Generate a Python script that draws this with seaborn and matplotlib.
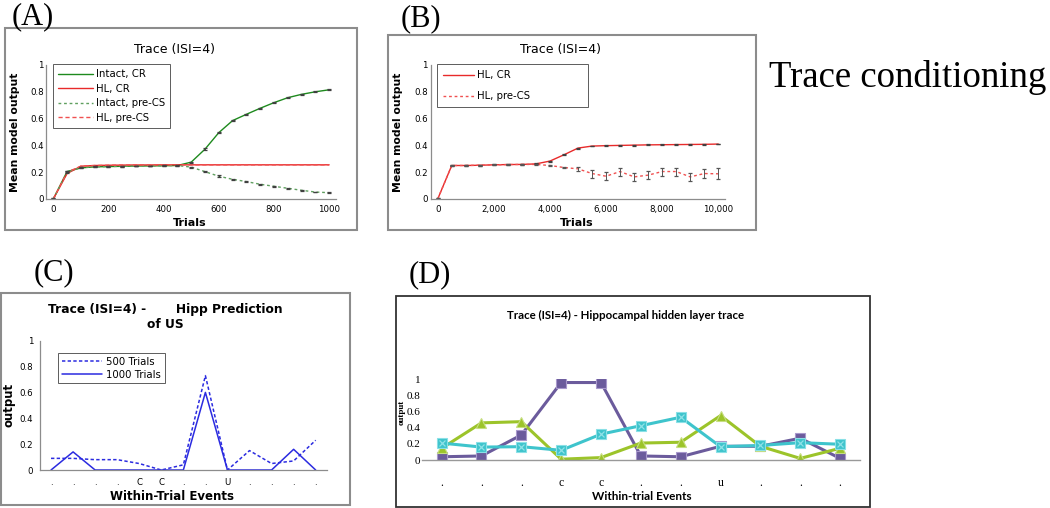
import numpy as np
import pandas as pd
import seaborn as sns
import matplotlib.pyplot as plt
from matplotlib.patches import Rectangle
from matplotlib.ticker import MultipleLocator

# ---- data ----
# (A) Trace ISI=4, 0..1000 trials in blocks of 50
a_trials = [0, 50, 100, 150, 200, 250, 300, 350, 400, 450, 500,
            550, 600, 650, 700, 750, 800, 850, 900, 950, 1000]
a_intact_cr = [0.0, 0.205, 0.232, 0.24, 0.242, 0.244, 0.246, 0.247, 0.248, 0.25, 0.275,
               0.372, 0.495, 0.585, 0.632, 0.677, 0.719, 0.756, 0.781, 0.80, 0.815]
a_hl_cr = [0.0, 0.19, 0.245, 0.25, 0.252, 0.253, 0.254, 0.254, 0.255, 0.255, 0.255,
           0.255, 0.255, 0.255, 0.255, 0.255, 0.255, 0.255, 0.255, 0.255, 0.255]
a_intact_pre = [0.0, 0.2, 0.235, 0.24, 0.242, 0.244, 0.246, 0.247, 0.248, 0.25, 0.238,
                0.204, 0.17, 0.147, 0.13, 0.11, 0.095, 0.08, 0.065, 0.052, 0.047]
a_hl_pre = [0.0, 0.2, 0.245, 0.25, 0.252, 0.253, 0.254, 0.254, 0.255, 0.255, 0.255,
            0.255, 0.255, 0.255, 0.255, 0.255, 0.255, 0.255, 0.255, 0.255, 0.255]
a_err = [0.006, 0.006, 0.004, 0.003, 0.003, 0.003, 0.003, 0.003, 0.003, 0.003, 0.004,
         0.006, 0.006, 0.005, 0.004, 0.004, 0.004, 0.003, 0.003, 0.003, 0.003]

# (B) Trace ISI=4, HL only, 0..10000 trials in blocks of 500
b_trials = [0, 500, 1000, 1500, 2000, 2500, 3000, 3500, 4000, 4500, 5000,
            5500, 6000, 6500, 7000, 7500, 8000, 8500, 9000, 9500, 10000]
b_hl_cr = [0.0, 0.25, 0.25, 0.252, 0.255, 0.257, 0.258, 0.262, 0.283, 0.33, 0.38,
           0.395, 0.398, 0.40, 0.402, 0.404, 0.405, 0.406, 0.407, 0.408, 0.41]
b_hl_pre = [0.0, 0.25, 0.25, 0.252, 0.255, 0.257, 0.258, 0.258, 0.25, 0.235, 0.225,
            0.19, 0.17, 0.205, 0.165, 0.178, 0.205, 0.205, 0.165, 0.19, 0.188]
b_cr_err = [0.006, 0.004, 0.003, 0.003, 0.003, 0.003, 0.003, 0.003, 0.004, 0.004, 0.004,
            0.003, 0.003, 0.003, 0.003, 0.003, 0.003, 0.003, 0.003, 0.003, 0.003]
b_pre_err = [0.006, 0.004, 0.004, 0.004, 0.004, 0.004, 0.004, 0.005, 0.005, 0.006, 0.015,
             0.03, 0.03, 0.03, 0.03, 0.03, 0.03, 0.03, 0.03, 0.035, 0.04]

# (C) hippocampal prediction of US within a trial
c_events = ['.', '.', '.', '.', 'C', 'C', '.', '.', 'U', '.', '.', '.', '.']
c_500 = [0.09, 0.09, 0.08, 0.08, 0.05, 0.0, 0.04, 0.73, 0.0, 0.15, 0.05, 0.07, 0.23]
c_1000 = [0.0, 0.14, 0.0, 0.0, 0.0, 0.0, 0.0, 0.6, 0.0, 0.0, 0.0, 0.16, 0.0]

# (D) hippocampal hidden layer units
d_events = ['.', '.', '.', 'c', 'c', '.', '.', 'u', '.', '.', '.']
d_unit1 = [0.04, 0.05, 0.31, 0.96, 0.96, 0.05, 0.04, 0.17, 0.17, 0.27, 0.02]
d_unit2 = [0.145, 0.46, 0.475, 0.01, 0.03, 0.21, 0.22, 0.55, 0.17, 0.02, 0.145]
d_unit3 = [0.21, 0.16, 0.165, 0.12, 0.32, 0.425, 0.53, 0.165, 0.18, 0.215, 0.195]

y_ticks = [0, 0.2, 0.4, 0.6, 0.8, 1]
y_labels = ['0', '0.2', '0.4', '0.6', '0.8', '1']

# ---- layout helpers (pixel -> figure fraction) ----
W, H = 1050, 508


def fx(px):
    return px / W


def fy(py):
    return 1 - py / H


def rect(x0, y0, x1, y1):
    return [x0 / W, 1 - y1 / H, (x1 - x0) / W, (y1 - y0) / H]


def frame(fig, x0, y0, x1, y1, color='#8c8c8c', lw=1.5):
    fig.add_artist(Rectangle((fx(x0), fy(y1)), (x1 - x0) / W, (y1 - y0) / H,
                             transform=fig.transFigure, fill=False, ec=color, lw=lw))


sns.set_style("white")
plt.rcParams['font.family'] = ['DejaVu Sans']
plt.rcParams['text.color'] = 'black'
plt.rcParams['xtick.labelcolor'] = 'black'
plt.rcParams['ytick.labelcolor'] = 'black'
SERIF = ['Liberation Serif', 'DejaVu Serif']

fig = plt.figure(figsize=(10.5, 5.08), dpi=100)

# panel letters
for txt, x, y in [('(A)', 12, 24), ('(B)', 401, 26), ('(C)', 34, 280), ('(D)', 409, 282)]:
    fig.text(fx(x), fy(y), txt, family=SERIF, fontsize=22, va='baseline', ha='left')
fig.text(fx(769), fy(87), 'Trace conditioning', family=SERIF, fontsize=26.5, va='baseline')

# frames
frame(fig, 5, 28, 357, 230)
frame(fig, 388, 35, 756, 230)
frame(fig, 1, 293, 350, 505)
frame(fig, 396, 296, 870, 507, color='#333333', lw=1.3)

spine_col = '#8c8c8c'


def style_trial_axes(ax, xlim, minor_step, minor_off, major, major_labels):
    ax.set_xlim(*xlim)
    ax.set_ylim(0, 1)
    ax.set_xticks(major)
    ax.set_xticklabels(major_labels)
    ax.xaxis.set_minor_locator(MultipleLocator(minor_step, offset=minor_off))
    ax.set_yticks(y_ticks)
    ax.set_yticklabels(y_labels)
    ax.tick_params(axis='x', which='major', length=0, labelsize=6.2, pad=4.5)
    ax.tick_params(axis='x', which='minor', length=3, color=spine_col, direction='out')
    ax.tick_params(axis='y', length=3, color=spine_col, direction='in', labelsize=6.2, pad=2)
    for s in ['top', 'right']:
        ax.spines[s].set_visible(False)
    for s in ['left', 'bottom']:
        ax.spines[s].set_color(spine_col)
        ax.spines[s].set_linewidth(0.9)
    ax.set_xlabel('')
    ax.set_ylabel('')


# ---- (A) ----
axA = fig.add_axes(rect(46.4, 65, 336, 199))
green, red = '#1e8a1e', '#e82a2a'
sns.lineplot(x=a_trials, y=a_intact_cr, ax=axA, color=green, lw=1.0, label='Intact, CR', legend=False)
sns.lineplot(x=a_trials, y=a_hl_cr, ax=axA, color=red, lw=1.0, label='HL, CR', legend=False)
sns.lineplot(x=a_trials, y=a_intact_pre, ax=axA, color='#5f9f5f', lw=1.0, ls=(0, (2, 2)),
             label='Intact, pre-CS', legend=False)
sns.lineplot(x=a_trials, y=a_hl_pre, ax=axA, color='#f05050', lw=1.0, ls=(0, (3, 2)),
             label='HL, pre-CS', legend=False)
for ys in [a_intact_cr, a_intact_pre]:
    axA.errorbar(a_trials, ys, yerr=a_err, fmt='none', ecolor='#404040', elinewidth=0.7,
                 capsize=1.6, capthick=0.9)
style_trial_axes(axA, (-25, 1025), 250, -25, [0, 200, 400, 600, 800, 1000],
                 ['0', '200', '400', '600', '800', '1000'])
axA.legend(loc='upper left', bbox_to_anchor=(fx(53), fy(64)), bbox_transform=fig.transFigure,
           fontsize=7.3, frameon=True, fancybox=False, edgecolor='#333333', borderpad=0.5,
           handlelength=3.4, handletextpad=0.35, labelspacing=0.45, borderaxespad=0)
axA.get_legend().get_frame().set_linewidth(0.7)
fig.text(fx(174), fy(49), 'Trace (ISI=4)', fontsize=9, ha='center', va='center')
fig.text(fx(190), fy(223), 'Trials', fontsize=8, weight='bold', ha='center', va='center')
fig.text(fx(15), fy(132), 'Mean model output', fontsize=7.8, weight='bold', rotation=90,
         ha='center', va='center')

# ---- (B) ----
axB = fig.add_axes(rect(430.7, 65, 725.3, 199))
sns.lineplot(x=b_trials, y=b_hl_cr, ax=axB, color=red, lw=1.0, label='HL, CR', legend=False)
sns.lineplot(x=b_trials, y=b_hl_pre, ax=axB, color='#f05050', lw=1.0, ls=(0, (2, 2)),
             label='HL, pre-CS', legend=False)
axB.errorbar(b_trials, b_hl_cr, yerr=b_cr_err, fmt='none', ecolor='#404040', elinewidth=0.7,
             capsize=1.6, capthick=0.9)
axB.errorbar(b_trials, b_hl_pre, yerr=b_pre_err, fmt='none', ecolor='#555555', elinewidth=0.7,
             capsize=1.6, capthick=0.9)
style_trial_axes(axB, (-250, 10250), 2500, -250, [0, 2000, 4000, 6000, 8000, 10000],
                 ['0', '2,000', '4,000', '6,000', '8,000', '10,000'])
axB.legend(loc='upper left', bbox_to_anchor=(fx(437), fy(107), 151 / W, 43 / H),
           bbox_transform=fig.transFigure, mode='expand',
           fontsize=7.3, frameon=True, fancybox=False, edgecolor='#333333', borderpad=0.6,
           handlelength=3.0, handletextpad=0.35, labelspacing=1.1, borderaxespad=0)
axB.get_legend().get_frame().set_linewidth(0.7)
fig.text(fx(560), fy(49), 'Trace (ISI=4)', fontsize=9, ha='center', va='center')
fig.text(fx(577), fy(223), 'Trials', fontsize=8, weight='bold', ha='center', va='center')
fig.text(fx(398), fy(132), 'Mean model output', fontsize=7.8, weight='bold', rotation=90,
         ha='center', va='center')

# ---- (C) ----
axC = fig.add_axes(rect(40, 340.7, 326.7, 470))
blue = '#2b2be0'
cx = np.arange(len(c_events))
sns.lineplot(x=cx, y=c_500, ax=axC, color=blue, lw=1.1, ls=(0, (2.2, 1.5)), label='500 Trials',
             legend=False)
sns.lineplot(x=cx, y=c_1000, ax=axC, color=blue, lw=1.1, label='1000 Trials', legend=False)
axC.set_xlim(-0.5, len(c_events) - 0.5)
axC.set_ylim(0, 1)
axC.set_xticks(cx)
axC.set_xticklabels(c_events)
axC.xaxis.set_minor_locator(MultipleLocator(1, offset=0.5))
axC.set_yticks(y_ticks)
axC.set_yticklabels(y_labels)
axC.tick_params(axis='x', which='major', length=0, labelsize=6.2, pad=6)
axC.tick_params(axis='x', which='minor', length=3, color=spine_col, direction='out')
axC.tick_params(axis='y', length=3, color=spine_col, direction='out', labelsize=6.2, pad=2)
for s in ['top', 'right']:
    axC.spines[s].set_visible(False)
for s in ['left', 'bottom']:
    axC.spines[s].set_color(spine_col)
    axC.spines[s].set_linewidth(0.9)
axC.set_xlabel('')
axC.set_ylabel('')
axC.legend(loc='upper left', bbox_to_anchor=(fx(58), fy(353)), bbox_transform=fig.transFigure,
           fontsize=7.3, frameon=True, fancybox=False, edgecolor='#333333', borderpad=0.35,
           handlelength=4.0, handletextpad=0.4, labelspacing=0.3, borderaxespad=0)
axC.get_legend().get_frame().set_linewidth(0.7)
fig.text(fx(165), fy(317), 'Trace (ISI=4) -       Hipp Prediction\nof US', fontsize=8.8,
         weight='bold', ha='center', va='center', multialignment='center', linespacing=1.1)
fig.text(fx(172), fy(496), 'Within-Trial Events', fontsize=8.5, weight='bold', ha='center',
         va='center')
fig.text(fx(9), fy(405), 'output', fontsize=8.5, weight='bold', rotation=90, ha='center',
         va='center')

# ---- (D) ----
axD = fig.add_axes(rect(421.7, 379.3, 860, 460))
dx = np.arange(len(d_events))
sns.lineplot(x=dx, y=d_unit1, ax=axD, color='#6b5b9c', lw=2.2, marker='s', markersize=6.8,
             markeredgecolor='#a898cc', markeredgewidth=0.8, legend=False)
sns.lineplot(x=dx, y=d_unit2, ax=axD, color='#9cc42a', lw=2.2, marker='^', markersize=7.5,
             markeredgecolor='#c6de80', markeredgewidth=0.8, legend=False)
sns.lineplot(x=dx, y=d_unit3, ax=axD, color='#3ec4cc', lw=2.2, marker='s', markersize=6.5,
             markeredgecolor='#8ae0e6', markeredgewidth=0.8, legend=False)
axD.plot(dx, d_unit3, ls='none', marker='x', markersize=4, markeredgecolor='#8fe2e8',
         markeredgewidth=0.9)
axD.set_xlim(-0.5, len(d_events) - 0.5)
axD.set_ylim(0, 1)
axD.set_xticks(dx)
axD.set_xticklabels(d_events, family=SERIF, fontsize=8.5)
axD.xaxis.set_minor_locator(MultipleLocator(1, offset=0.5))
axD.set_yticks(y_ticks)
axD.set_yticklabels(y_labels, family=SERIF, fontsize=8)
axD.tick_params(axis='x', which='major', length=0, pad=12)
axD.tick_params(axis='x', which='minor', length=3, color='#999999', direction='out')
axD.tick_params(axis='y', length=0, pad=1)
for s in ['top', 'right', 'left']:
    axD.spines[s].set_visible(False)
axD.spines['bottom'].set_color('#999999')
axD.spines['bottom'].set_linewidth(1.0)
axD.set_xlabel('')
axD.set_ylabel('')
fig.text(fx(626), fy(315), 'Trace (ISI=4) - Hippocampal hidden layer trace', family=['Lato'],
         fontsize=8.3, weight='bold', ha='center', va='center')
fig.text(fx(642), fy(497), 'Within-trial Events', family=['Lato'], fontsize=8.5,
         weight='bold', ha='center', va='center')
fig.text(fx(402), fy(412), 'output', family=SERIF, fontsize=6.5, weight='bold', rotation=90,
         ha='center', va='center')

fig.savefig('out.png', dpi=100)
